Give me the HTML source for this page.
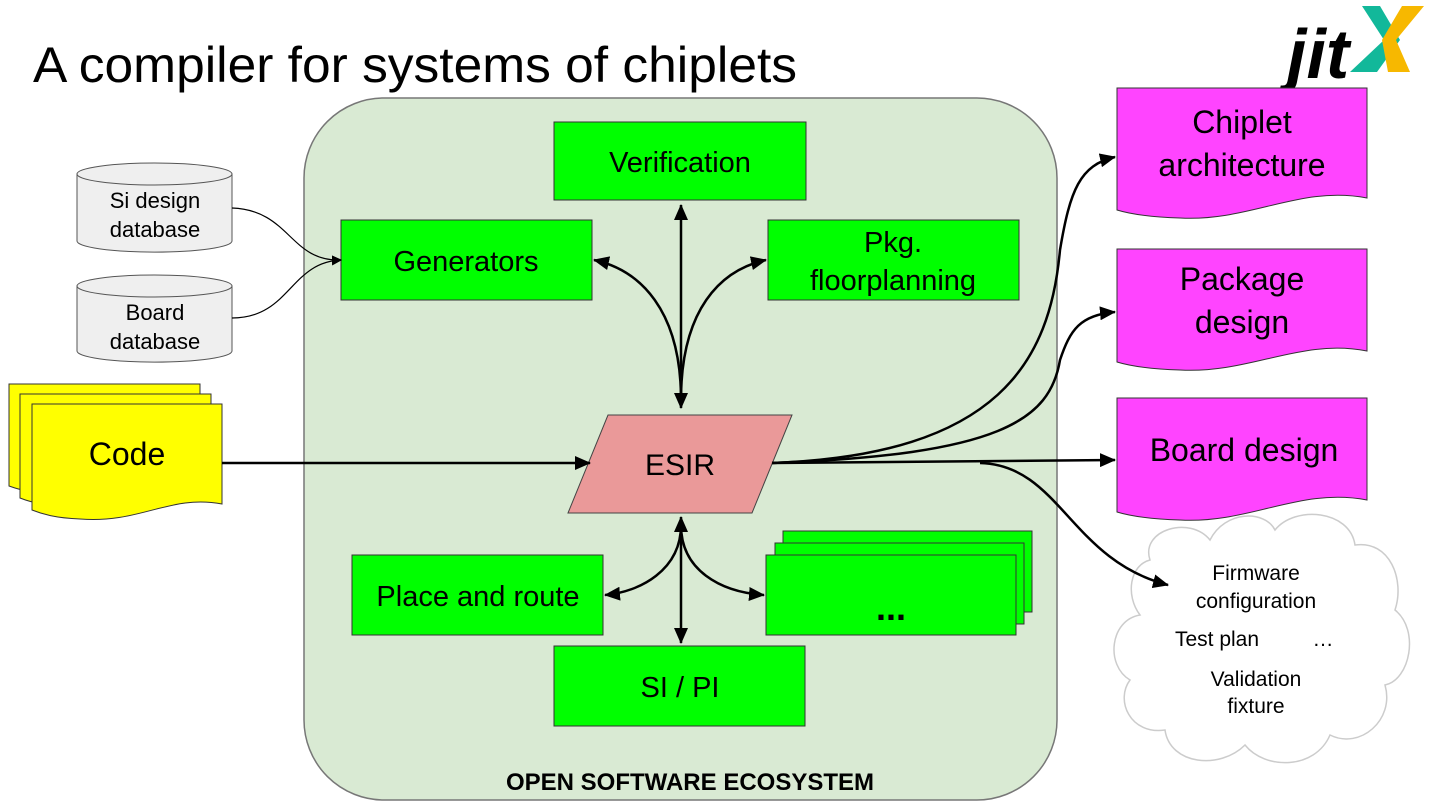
<!DOCTYPE html>
<html><head><style>body{margin:0;background:#fff}svg{display:block}text{font-family:"Liberation Sans",sans-serif}</style></head>
<body>
<svg width="1433" height="803" viewBox="0 0 1433 803" xmlns="http://www.w3.org/2000/svg">
<defs>
<marker id="a" markerWidth="16" markerHeight="14" refX="15" refY="7" orient="auto-start-reverse" markerUnits="userSpaceOnUse" viewBox="0 0 16 14"><path d="M0,0 L16,7 L0,14 Z" fill="#000"/></marker>
<marker id="s" markerWidth="10" markerHeight="10" refX="9" refY="5" orient="auto" markerUnits="userSpaceOnUse" viewBox="0 0 10 10"><path d="M0,0 L10,5 L0,10 Z" fill="#000"/></marker>
</defs>
<text x="33" y="82" font-size="50" textLength="764" lengthAdjust="spacingAndGlyphs">A compiler for systems of chiplets</text>
<text x="1287" y="78" font-size="70" font-weight="bold" font-style="italic">jit</text>
<path d="M1362,6 L1380,6 L1400,40 L1377,72 L1350,72 L1384,40 Z" fill="#12b89a"/>
<path d="M1424,6 L1402,6 L1382,40 L1388,72 L1410,72 L1396,40 Z" fill="#f7b800"/>
<rect x="304" y="98" width="753" height="702" rx="80" fill="#d9ead3" stroke="#777" stroke-width="1.5"/>
<text x="690" y="790" font-size="24" font-weight="bold" text-anchor="middle">OPEN SOFTWARE ECOSYSTEM</text>
<g stroke="#333" stroke-width="1" fill="#00ff00">
<rect x="554" y="122" width="252" height="78"/>
<rect x="341" y="220" width="251" height="80"/>
<rect x="768" y="220" width="251" height="80"/>
<rect x="352" y="555" width="251" height="80"/>
<rect x="554" y="646" width="251" height="80"/>
<rect x="783" y="531" width="249" height="81"/>
<rect x="775" y="543" width="249" height="81"/>
<rect x="766" y="555" width="250" height="80"/>
</g>
<g font-size="29" text-anchor="middle">
<text x="680" y="172">Verification</text>
<text x="466" y="271">Generators</text>
<text x="893" y="252">Pkg.</text>
<text x="893" y="290">floorplanning</text>
<text x="478" y="606">Place and route</text>
<text x="680" y="697">SI / PI</text>
<text x="891" y="620" font-size="36" font-weight="bold">...</text>
</g>
<polygon points="568,513 608,415 792,415 752,513" fill="#ea9999" stroke="#444"/>
<text x="680" y="475" font-size="30" text-anchor="middle">ESIR</text>
<g fill="#efefef" stroke="#555">
<path d="M77,174 L77,241 A77,11 0 0 0 232,241 L232,174"/>
<ellipse cx="154.5" cy="174" rx="77.5" ry="11"/>
<path d="M77,286 L77,351 A77,11 0 0 0 232,351 L232,286"/>
<ellipse cx="154.5" cy="286" rx="77.5" ry="11"/>
</g>
<g font-size="22" text-anchor="middle">
<text x="155" y="208">Si design</text><text x="155" y="237">database</text>
<text x="155" y="320">Board</text><text x="155" y="349">database</text>
</g>
<g fill="#ffff00" stroke="#333">
<path d="M9,384 L200,384 L200,480 C150,470 120,500 60,495 C35,494 20,490 9,486 Z"/>
<path d="M20,394 L211,394 L211,492 C160,482 130,512 70,507 C45,506 30,502 20,498 Z"/>
<path d="M32,404 L222,404 L222,504 C170,494 140,524 80,519 C55,518 42,514 32,510 Z"/>
</g>
<text x="127" y="465" font-size="32" text-anchor="middle">Code</text>
<g fill="#ff44ff" stroke="#333">
<path d="M1117,88 L1367,88 L1367,198 C1300,185 1250,222 1180,218 C1150,217 1130,214 1117,210 Z"/>
<path d="M1117,249 L1367,249 L1367,351 C1300,338 1250,374 1180,370 C1150,369 1130,366 1117,362 Z"/>
<path d="M1117,398 L1367,398 L1367,500 C1300,487 1250,524 1180,520 C1150,519 1130,516 1117,512 Z"/>
</g>
<g font-size="32" text-anchor="middle">
<text x="1242" y="133">Chiplet</text><text x="1242" y="176">architecture</text>
<text x="1242" y="290">Package</text><text x="1242" y="333">design</text>
<text x="1244" y="461">Board design</text>
</g>
<path d="M1150,560 C1140,530 1190,515 1210,540 C1225,510 1265,510 1275,530 C1295,505 1350,510 1355,545 C1390,540 1405,580 1395,610 C1420,630 1410,680 1385,685 C1395,720 1360,750 1330,735 C1315,770 1265,770 1245,745 C1220,770 1170,765 1165,730 C1130,735 1115,700 1130,680 C1105,665 1110,620 1140,615 C1125,595 1130,565 1150,560 Z" fill="#fff" stroke="#ccc" stroke-width="1.5"/>
<g font-size="21" text-anchor="middle">
<text x="1256" y="580">Firmware</text><text x="1256" y="608">configuration</text>
<text x="1217" y="646">Test plan</text><text x="1323" y="646">…</text>
<text x="1256" y="686">Validation</text><text x="1256" y="713">fixture</text>
</g>
<g fill="none" stroke="#000" stroke-width="2.5">
<path d="M232,208 C290,210 290,262 341,260" stroke-width="1.2" marker-end="url(#s)"/>
<path d="M232,318 C290,318 290,262 341,260" stroke-width="1.2" marker-end="url(#s)"/>
<path d="M222,463 L590,463" marker-end="url(#a)"/>
<path d="M681,205 L681,408" marker-start="url(#a)" marker-end="url(#a)"/>
<path d="M681,400 C681,310 640,270 594,260" marker-end="url(#a)"/>
<path d="M681,400 C681,310 720,270 766,260" marker-end="url(#a)"/>
<path d="M681,517 L681,643" marker-start="url(#a)" marker-end="url(#a)"/>
<path d="M681,525 C681,570 640,592 605,595" marker-end="url(#a)"/>
<path d="M681,525 C681,570 720,592 764,595" marker-end="url(#a)"/>
<path d="M772,463 L1115,460" marker-end="url(#a)"/>
<path d="M772,463 C1000,455 1050,360 1060,250 C1070,190 1080,165 1115,157" marker-end="url(#a)"/>
<path d="M772,463 C1000,455 1050,420 1060,360 C1070,330 1080,315 1115,312" marker-end="url(#a)"/>
<path d="M980,463 C1060,465 1070,560 1168,585" marker-end="url(#a)"/>
</g>
</svg>
</body></html>
